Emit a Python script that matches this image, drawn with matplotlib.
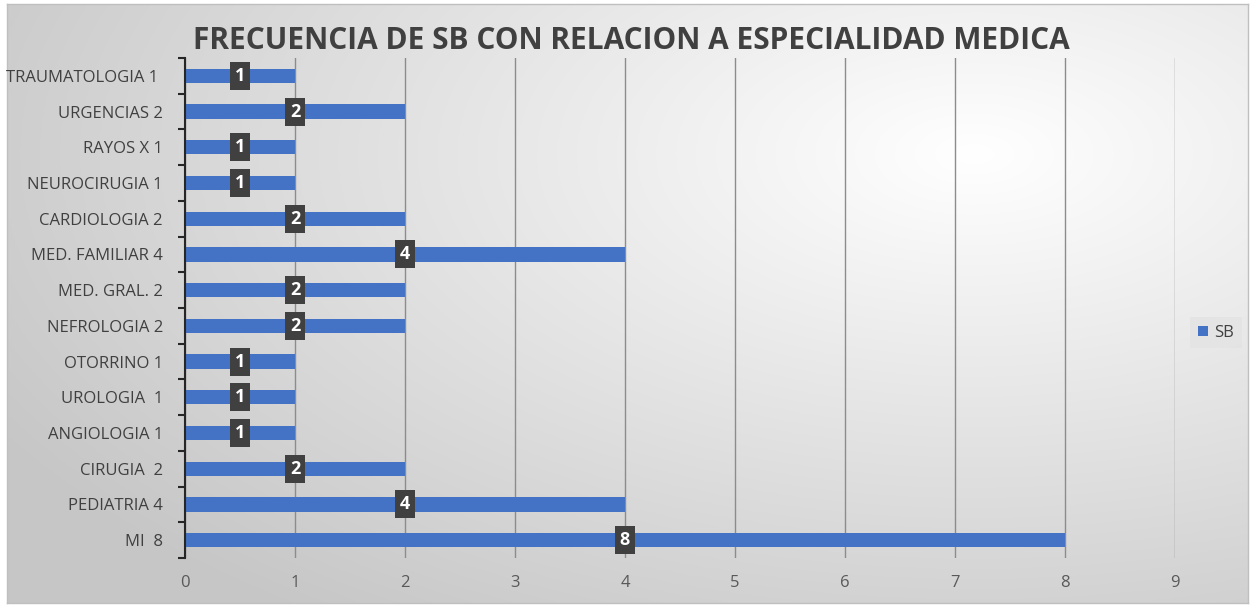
import numpy as np
import matplotlib
matplotlib.use("Agg")
import matplotlib.pyplot as plt

categories = ["MI  8", "PEDIATRIA 4", "CIRUGIA  2", "ANGIOLOGIA 1", "UROLOGIA  1",
              "OTORRINO 1", "NEFROLOGIA 2", "MED. GRAL. 2", "MED. FAMILIAR 4",
              "CARDIOLOGIA 2", "NEUROCIRUGIA 1", "RAYOS X 1", "URGENCIAS 2",
              "TRAUMATOLOGIA 1 "]
values = [8, 4, 2, 1, 1, 1, 2, 2, 4, 2, 1, 1, 2, 1]
series_name = "SB"
x_ticks = list(range(0, 10))
title = "FRECUENCIA DE SB CON RELACION A ESPECIALIDAD MEDICA"

plt.rcParams['font.family'] = ['Open Sans', 'DejaVu Sans']

W, H = 1253, 607
fig = plt.figure(figsize=(W / 100, H / 100), dpi=100)
fig.patch.set_facecolor("white")

# gradient background
bg = fig.add_axes([7 / W, 4 / H, 1241 / W, 599 / H])
yy, xx = np.mgrid[0:1:300j, 0:1:600j]
d = np.sqrt(((xx - 0.78) / 0.9) ** 2 + ((yy - 0.25) / 0.95) ** 2)
g = np.clip(1.0 - 0.22 * d, 0.78, 1.0)
img = np.dstack([g, g, g])
bg.imshow(img, aspect="auto", extent=[0, 1, 0, 1], origin="upper")
bg.set_xticks([]); bg.set_yticks([])
for s in bg.spines.values():
    s.set_color("#bfbfbf")
    s.set_linewidth(1)

ax = fig.add_axes([185 / W, 1 - 558 / H, (1175 - 185) / W, (558 - 58) / H])
ax.patch.set_alpha(0)
y = np.arange(len(categories))
bars = ax.barh(y, values, height=0.4, color="#4472C4", zorder=3, label=series_name)
ax.set_xlim(0, 9)
ax.set_ylim(-0.5, len(categories) - 0.5)
ax.set_xticks(x_ticks)
ax.set_xticklabels([str(t) for t in x_ticks], fontsize=12, color="#595959")
ax.set_yticks(y)
ax.set_yticklabels(categories, fontsize=12, color="#404040")
ax.set_yticks(np.arange(-0.5, len(categories), 1), minor=True)
ax.tick_params(axis="y", which="major", length=0, pad=16)
ax.tick_params(axis="y", which="minor", length=5, width=1.5, color="#262626", direction="out")
ax.tick_params(axis="x", length=0, pad=12)
ax.grid(axis="x", color="#8c8c8c", linewidth=1, zorder=0)
for s in ["top", "right", "bottom"]:
    ax.spines[s].set_visible(False)
ax.spines["left"].set_color("#262626")
ax.spines["left"].set_linewidth(1.5)
ax.spines["left"].set_zorder(4)

for yi, v in zip(y, values):
    ax.text(v / 2, yi, str(v), ha="center", va="center", fontsize=13, fontweight="bold",
            color="white", zorder=6,
            bbox=dict(boxstyle="square,pad=0.28", facecolor="#404040", edgecolor="none"))

fig.text(631 / W, 1 - 41 / H, title, ha="center", va="center", fontsize=21.5,
         fontweight="bold", color="#404040")

leg = fig.legend(handles=[bars], labels=[series_name], loc="center",
                 bbox_to_anchor=(1216 / W, 1 - 333 / H), frameon=True, fontsize=12,
                 handlelength=0.6, handleheight=0.6, handletextpad=0.4,
                 borderpad=0.45, fancybox=False)
leg.get_frame().set_facecolor("#e3e3e3")
leg.get_frame().set_edgecolor("none")
for t in leg.get_texts():
    t.set_color("#404040")

fig.savefig("out.png", dpi=100)
